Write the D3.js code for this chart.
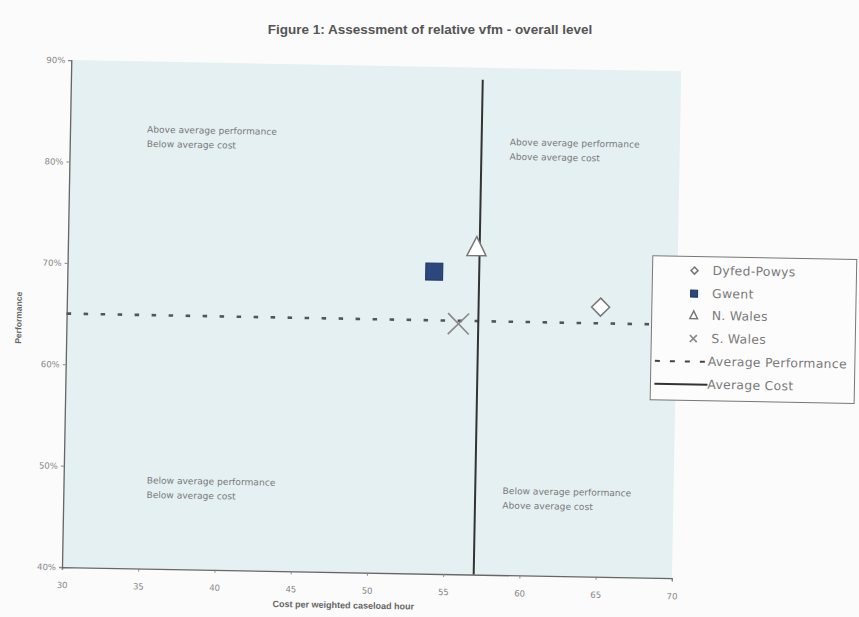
<!DOCTYPE html>
<html>
<head>
<meta charset="utf-8">
<script src="https://cdn.jsdelivr.net/npm/d3@7"></script>
<style>
  html, body { margin: 0; padding: 0; background: #fbfbfb; }
  svg { display: block; font-family: "DejaVu Sans", "Liberation Sans", Arial, sans-serif; }
</style>
</head>
<body>
<svg id="chart" width="859" height="617"></svg>
<script>
// Police areas and their cost / performance scores
const regions = ["Dyfed-Powys", "Gwent", "N. Wales", "S. Wales"];
const costValues = [65.0, 54.05, 56.8, 55.7];
const performanceValues = [66.6, 69.8, 72.2, 64.7];
const averageCost = 57;
const averagePerformance = 65;

const xTicks = [30, 35, 40, 45, 50, 55, 60, 65, 70];
const yTicks = [40, 50, 60, 70, 80, 90];

// Quadrant captions, anchored in data units (cost, performance)
const quadrantCost = [35.05, 58.85, 35.45, 58.8];
const quadrantPerf = [83.0, 82.4, 48.4, 48.0];
const quadrantText = [
  ["Above average performance", "Below average cost"],
  ["Above average performance", "Above average cost"],
  ["Below average performance", "Below average cost"],
  ["Below average performance", "Above average cost"]
];

const svg = d3.select("#chart");
const x = d3.scaleLinear().domain([30, 70]).range([62, 672]);
const y = d3.scaleLinear().domain([40, 90]).range([567, 60]);

// Title
svg.append("text")
  .attr("x", 430).attr("y", 34)
  .attr("text-anchor", "middle")
  .attr("font-family", "Liberation Sans, Arial, sans-serif")
  .attr("font-size", 13.5).attr("font-weight", "bold").attr("fill", "#555")
  .text("Figure 1: Assessment of relative vfm - overall level");

// The page sits slightly skewed, so the whole plot is turned a little
const page = svg.append("g").attr("transform", "rotate(1.05, 60, 567)");

// Plot background
page.append("rect")
  .attr("x", x(30)).attr("y", y(90))
  .attr("width", x(70) - x(30)).attr("height", y(40) - y(90))
  .attr("fill", "#e4f0f2");

// Axes
const xAxis = page.append("g")
  .attr("transform", `translate(0,${y(40)})`)
  .call(d3.axisBottom(x).tickValues(xTicks).tickSize(3).tickPadding(12));
const yAxis = page.append("g")
  .attr("transform", `translate(${x(30)},0)`)
  .call(d3.axisLeft(y).tickValues(yTicks).tickSize(3).tickPadding(3).tickFormat(d => d + "%"));
[xAxis, yAxis].forEach(g => {
  g.select(".domain").attr("stroke", "#666").attr("stroke-width", 1.3);
  g.selectAll(".tick line").attr("stroke", "#888");
  g.selectAll(".tick text").attr("fill", "#888").attr("font-size", 8.5)
    .attr("font-family", "DejaVu Sans, sans-serif");
});

// Axis titles
page.append("text")
  .attr("x", 344).attr("y", 603)
  .attr("text-anchor", "middle")
  .attr("font-family", "Liberation Sans, Arial, sans-serif")
  .attr("font-size", 9).attr("font-weight", "bold").attr("fill", "#666")
  .text("Cost per weighted caseload hour");
page.append("text")
  .attr("transform", `translate(17,${y(64.5)}) rotate(-90)`)
  .attr("text-anchor", "middle")
  .attr("font-family", "Liberation Sans, Arial, sans-serif")
  .attr("font-size", 8.5).attr("font-weight", "bold").attr("fill", "#666")
  .text("Performance");

// Average performance (dashed) and average cost (solid)
page.append("line")
  .attr("x1", x(30)).attr("x2", x(70))
  .attr("y1", y(averagePerformance)).attr("y2", y(averagePerformance))
  .attr("stroke", "#555").attr("stroke-width", 2.6)
  .attr("stroke-dasharray", "4.5,12.5");
page.append("line")
  .attr("x1", x(averageCost)).attr("x2", x(averageCost))
  .attr("y1", y(90) + 12).attr("y2", y(40))
  .attr("stroke", "#333").attr("stroke-width", 2);

// Quadrant annotations
quadrantText.forEach((lines, k) => {
  const t = page.append("text")
    .attr("x", x(quadrantCost[k])).attr("y", y(quadrantPerf[k]))
    .attr("font-size", 9.1).attr("fill", "#7a7a7a");
  lines.forEach((line, i) => {
    t.append("tspan").attr("x", x(quadrantCost[k])).attr("dy", i === 0 ? 0 : 14.5).text(line);
  });
});

// Markers
function drawMarker(g, name, s) {
  if (name === "Dyfed-Powys") {
    g.append("path")
      .attr("d", `M0,${-s}L${s},0L0,${s}L${-s},0Z`)
      .attr("fill", "#fff").attr("stroke", "#777").attr("stroke-width", 1.5);
  } else if (name === "Gwent") {
    g.append("rect")
      .attr("x", -s).attr("y", -s).attr("width", 2 * s).attr("height", 2 * s)
      .attr("fill", "#2b477b").attr("stroke", "#1e3560").attr("stroke-width", 1);
  } else if (name === "N. Wales") {
    g.append("path")
      .attr("d", `M0,${-s * 1.15}L${s * 0.95},${s * 0.75}L${-s * 0.95},${s * 0.75}Z`)
      .attr("fill", "#fff").attr("stroke", "#777").attr("stroke-width", 1.5);
  } else {
    g.append("path")
      .attr("d", `M${-s},${-s}L${s},${s}M${-s},${s}L${s},${-s}`)
      .attr("stroke", "#8a8a8a").attr("stroke-width", 1.7).attr("fill", "none");
  }
}

const markerSizes = { "Dyfed-Powys": 9, "Gwent": 8.5, "N. Wales": 10, "S. Wales": 10.5 };
regions.forEach((name, i) => {
  const g = page.append("g")
    .attr("transform", `translate(${x(costValues[i])},${y(performanceValues[i])})`);
  drawMarker(g, name, markerSizes[name]);
});

// Legend
const legend = page.append("g").attr("transform", "translate(-6,-11)");
legend.append("rect")
  .attr("x", 653).attr("y", 256).attr("width", 204).attr("height", 144)
  .attr("fill", "#fcfcfc").attr("stroke", "#777").attr("stroke-width", 1);
const rowY = [270, 293, 315, 338, 361, 384];
regions.forEach((name, i) => {
  const g = legend.append("g").attr("transform", `translate(695,${rowY[i]})`);
  drawMarker(g, name, name === "N. Wales" ? 4 : 3.5);
});
legend.append("line")
  .attr("x1", 657).attr("x2", 709).attr("y1", rowY[4]).attr("y2", rowY[4])
  .attr("stroke", "#444").attr("stroke-width", 2).attr("stroke-dasharray", "5,10");
legend.append("line")
  .attr("x1", 657).attr("x2", 710).attr("y1", rowY[5]).attr("y2", rowY[5])
  .attr("stroke", "#333").attr("stroke-width", 2);
const legendNames = regions.concat(["Average Performance", "Average Cost"]);
legend.selectAll("text.leg")
  .data(legendNames)
  .join("text")
  .attr("class", "leg")
  .attr("x", (d, i) => i < 4 ? 713 : 710)
  .attr("y", (d, i) => rowY[i] + 4)
  .attr("font-size", 12.4).attr("letter-spacing", 0.3).attr("fill", "#7a7a7a")
  .text(d => d);
</script>
</body>
</html>
